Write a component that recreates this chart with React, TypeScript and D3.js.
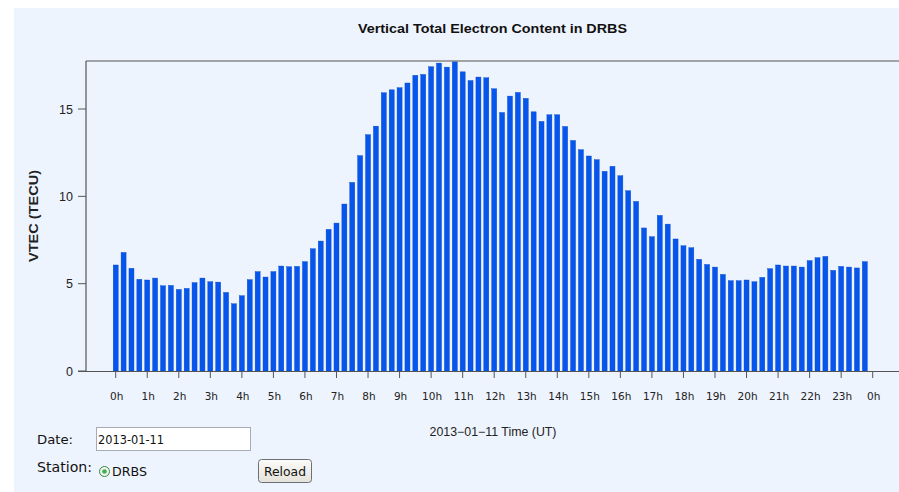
import React from "react";
import * as d3 from "d3";

const W = 899;
const H = 492;

// VTEC values every 15 minutes (96 samples), 2013-01-11, DRBS
const vtec: number[] = [
  6.07, 6.79, 5.88, 5.25, 5.21, 5.32, 4.88, 4.9, 4.67, 4.73, 5.06, 5.32,
  5.11, 5.09, 4.5, 3.85, 4.31, 5.23, 5.69, 5.38, 5.69, 6.01, 5.97, 5.99,
  6.26, 7.0, 7.44, 8.11, 8.47, 9.56, 10.8, 12.33, 13.53, 14.02, 15.93, 16.1,
  16.22, 16.49, 16.93, 16.98, 17.42, 17.63, 17.4, 17.73, 17.13, 16.63, 16.83, 16.79,
  16.16, 14.8, 15.74, 15.95, 15.61, 14.84, 14.29, 14.67, 14.67, 14.0, 13.2, 12.67,
  12.31, 12.1, 11.43, 11.72, 11.18, 10.32, 9.71, 8.19, 7.69, 8.91, 8.41, 7.56,
  7.17, 7.06, 6.39, 6.1, 5.95, 5.53, 5.17, 5.17, 5.21, 5.11, 5.36, 5.86,
  6.07, 6.01, 6.01, 5.95, 6.32, 6.49, 6.56, 5.76, 5.99, 5.95, 5.9, 6.26,
];
const hourTicks: number[] = d3.range(0, 25);
const hourLabels: string[] = hourTicks.map((h) => `${h % 24}h`);
const yTicks: number[] = [0, 5, 10, 15];

const title = "Vertical Total Electron Content in DRBS";
const xTitle = "2013\u221201\u221211 Time (UT)";
const yTitle = "VTEC (TECU)";

export default function App() {
  const x = d3.scaleLinear().domain([0, 24]).range([115.7, 872.7]);
  const y = d3.scaleLinear().domain([0, 17.75]).range([371, 61]);
  const barW = 5;
  const axisColor = "#555";
  const font = "'Liberation Sans', Arial, sans-serif";
  const tickFont = "'DejaVu Sans', Verdana, sans-serif";

  return (
    <svg
      width={W}
      height={H}
      style={{ position: "absolute", left: 0, top: 0 }}
      xmlns="http://www.w3.org/2000/svg"
    >
      <rect x={0} y={0} width={W} height={H} fill="#ffffff" />
      <rect x={14} y={8} width={W - 14} height={H - 8} fill="#eef4fd" />

      <text
        x={492.5}
        y={33}
        textAnchor="middle"
        fontFamily={font}
        fontWeight="bold"
        fontSize={13}
        fill="#111"
        textLength={269}
        lengthAdjust="spacingAndGlyphs"
      >
        {title}
      </text>

      {/* bars */}
      {vtec.map((v, i) => (
        <rect
          key={i}
          x={x(i * 0.25) - barW / 2}
          y={y(v)}
          width={barW}
          height={y(0) - y(v)}
          fill="#0656ee"
          stroke="#0345c8"
          strokeWidth={0.4}
        />
      ))}

      {/* frame lines */}
      <line x1={86} x2={W} y1={61} y2={61} stroke="#888" strokeWidth={1.6} />
      <line x1={86} x2={86} y1={61} y2={372} stroke={axisColor} strokeWidth={1.2} />
      <line x1={78} x2={W} y1={371.5} y2={371.5} stroke={axisColor} strokeWidth={1.2} />

      {/* y ticks */}
      {yTicks.map((t) => (
        <g key={t}>
          <line x1={78} x2={86} y1={y(t)} y2={y(t)} stroke={axisColor} strokeWidth={1} />
          <text
            x={73}
            y={y(t) + 4.5}
            textAnchor="end"
            fontFamily={font}
            fontSize={12.5}
            fill="#222"
          >
            {t}
          </text>
        </g>
      ))}

      {/* x ticks */}
      {hourTicks.map((h, i) => (
        <g key={h}>
          <line x1={x(h)} x2={x(h)} y1={371} y2={378} stroke={axisColor} strokeWidth={1} />
          <text
            x={x(h) + 1}
            y={400}
            textAnchor="middle"
            fontFamily={tickFont}
            fontSize={10.5}
            fill="#222"
          >
            {hourLabels[i]}
          </text>
        </g>
      ))}

      <text
        x={493}
        y={436}
        textAnchor="middle"
        fontFamily={font}
        fontSize={12}
        fill="#222"
        textLength={127}
        lengthAdjust="spacingAndGlyphs"
      >
        {xTitle}
      </text>

      <text
        transform="translate(37.5,216) rotate(-90)"
        textAnchor="middle"
        fontFamily={font}
        fontWeight="bold"
        fontSize={13}
        fill="#222"
        textLength={92}
        lengthAdjust="spacingAndGlyphs"
      >
        {yTitle}
      </text>

      {/* form controls */}
      <text x={37} y={444} fontFamily={tickFont} fontSize={13} fill="#111" textLength={36} lengthAdjust="spacingAndGlyphs">
        Date:
      </text>
      <rect x={96.5} y={427.5} width={154} height={23} fill="#ffffff" stroke="#a5acb5" strokeWidth={1} />
      <text x={98} y={444} fontFamily={tickFont} fontSize={12.5} fill="#111" textLength={66} lengthAdjust="spacingAndGlyphs">
        2013-01-11
      </text>
      <text x={37} y={472} fontFamily={tickFont} fontSize={13.5} fill="#111" textLength={55} lengthAdjust="spacingAndGlyphs">
        Station:
      </text>
      <circle cx={104.5} cy={471.5} r={5} fill="#f4f4f4" stroke="#2f8a3a" strokeWidth={1} />
      <circle cx={104.5} cy={471.5} r={2.3} fill="#3bb34a" />
      <text x={112} y={476} fontFamily={tickFont} fontSize={12.5} fill="#111" textLength={35} lengthAdjust="spacingAndGlyphs">
        DRBS
      </text>
      <defs>
        <linearGradient id="btn" x1="0" y1="0" x2="0" y2="1">
          <stop offset="0" stopColor="#fbfbf8" />
          <stop offset="1" stopColor="#e4e2da" />
        </linearGradient>
      </defs>
      <rect x={258.5} y={459.5} width={53} height={23} rx={3} fill="url(#btn)" stroke="#6b7079" strokeWidth={1} />
      <text x={285} y={476} textAnchor="middle" fontFamily={tickFont} fontSize={12.5} fill="#111" textLength={42} lengthAdjust="spacingAndGlyphs">
        Reload
      </text>
    </svg>
  );
}
